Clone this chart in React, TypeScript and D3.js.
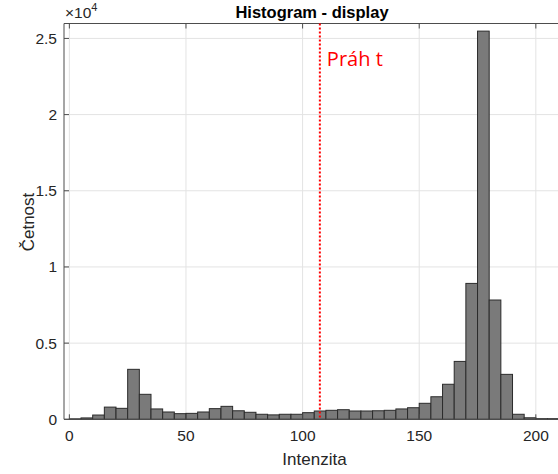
import React, { useEffect, useRef } from "react";
import * as d3 from "d3";

// bin edges: 0,5,10,...,210
const binStarts = [
  0, 5, 10, 15, 20, 25, 30, 35, 40, 45, 50, 55, 60, 65, 70, 75, 80, 85, 90, 95,
  100, 105, 110, 115, 120, 125, 130, 135, 140, 145, 150, 155, 160, 165, 170, 175,
  180, 185, 190, 195, 200, 205,
];
const counts = [
  30, 90, 280, 800, 720, 3280, 1640, 680, 480, 370, 390, 480, 700, 850, 560, 460,
  330, 290, 330, 330, 435, 545, 590, 630, 545, 545, 560, 590, 680, 760, 1050, 1480,
  2300, 3800, 8920, 25480, 7830, 2950, 330, 100, 40, 40,
];
const binWidth = 5;
const xTicks = [0, 50, 100, 150, 200];
const yTicks = [0, 5000, 10000, 15000, 20000, 25000];
const threshold = 107.4;

const App = () => {
  const svgRef = useRef<SVGSVGElement>(null);

  useEffect(() => {
    const svg = d3.select(svgRef.current);
    svg.selectAll("*").remove();

    const width = 558;
    const height = 474;
    const left = 64, right = 558, top = 23.5, bottom = 419.3;

    const x = d3.scaleLinear().domain([-2.3, 209.5]).range([left, right]);
    const y = d3.scaleLinear().domain([0, 25980]).range([bottom, top]);

    svg.attr("width", width).attr("height", height);
    const font = "Liberation Sans, Arial, Helvetica, sans-serif";

    // grid
    const grid = svg.append("g").attr("stroke", "#e3e3e3").attr("stroke-width", 1);
    xTicks.forEach(t => {
      grid.append("line").attr("x1", x(t)).attr("x2", x(t)).attr("y1", top).attr("y2", bottom);
    });
    yTicks.forEach(t => {
      grid.append("line").attr("x1", left).attr("x2", right).attr("y1", y(t)).attr("y2", y(t));
    });

    // bars
    svg.append("g")
      .selectAll("rect")
      .data(binStarts.map((b, i) => ({ b, c: counts[i] })))
      .join("rect")
      .attr("x", d => x(d.b))
      .attr("width", d => x(d.b + binWidth) - x(d.b))
      .attr("y", d => y(d.c))
      .attr("height", d => y(0) - y(d.c))
      .attr("fill", "#7a7a7a")
      .attr("stroke", "#2b2b2b")
      .attr("stroke-width", 1);

    // axes box (left, top, bottom)
    const ax = svg.append("g").attr("stroke", "#4d4d4d").attr("stroke-width", 1);
    ax.append("line").attr("x1", left).attr("x2", left).attr("y1", top).attr("y2", bottom);
    ax.append("line").attr("x1", left).attr("x2", right).attr("y1", top).attr("y2", top);
    ax.append("line").attr("x1", left).attr("x2", right).attr("y1", bottom).attr("y2", bottom);

    // ticks
    xTicks.forEach(t => {
      ax.append("line").attr("x1", x(t)).attr("x2", x(t)).attr("y1", bottom).attr("y2", bottom - 5);
      ax.append("line").attr("x1", x(t)).attr("x2", x(t)).attr("y1", top).attr("y2", top + 5);
    });
    yTicks.forEach(t => {
      ax.append("line").attr("x1", left).attr("x2", left + 5).attr("y1", y(t)).attr("y2", y(t));
    });

    // tick labels
    svg.append("g")
      .selectAll("text")
      .data(xTicks)
      .join("text")
      .attr("x", d => x(d))
      .attr("y", bottom + 22)
      .attr("text-anchor", "middle")
      .attr("font-family", font)
      .attr("font-size", 15.5)
      .attr("fill", "#262626")
      .text(d => d3.format("d")(d));

    svg.append("g")
      .selectAll("text")
      .data(yTicks)
      .join("text")
      .attr("x", left - 7)
      .attr("y", d => y(d))
      .attr("dy", "0.35em")
      .attr("text-anchor", "end")
      .attr("font-family", font)
      .attr("font-size", 15.5)
      .attr("fill", "#262626")
      .text(d => (d / 10000).toString());

    // exponent
    const ex = svg.append("text")
      .attr("x", left + 1)
      .attr("y", 18)
      .attr("font-family", font)
      .attr("font-size", 15.5)
      .attr("fill", "#262626");
    ex.append("tspan").text("\u00d710");
    ex.append("tspan").attr("dy", -7).attr("font-size", 11).text("4");

    // threshold line
    svg.append("line")
      .attr("x1", x(threshold))
      .attr("x2", x(threshold))
      .attr("y1", top)
      .attr("y2", bottom)
      .attr("stroke", "#ff0000")
      .attr("stroke-width", 2)
      .attr("stroke-dasharray", "2,2");

    svg.append("text")
      .attr("x", x(threshold) + 7)
      .attr("y", 66)
      .attr("font-family", "Open Sans, Noto Sans, sans-serif")
      .attr("font-size", 20)
      .attr("fill", "#ff0000")
      .text("Práh t");

    // title
    svg.append("text")
      .attr("x", (left + right) / 2 + 1)
      .attr("y", 18)
      .attr("text-anchor", "middle")
      .attr("font-family", font)
      .attr("font-size", 16.5)
      .attr("font-weight", "bold")
      .attr("fill", "#000")
      .text("Histogram - display");

    // axis labels
    svg.append("text")
      .attr("x", 314.5)
      .attr("y", 465)
      .attr("text-anchor", "middle")
      .attr("font-family", font)
      .attr("font-size", 17)
      .attr("fill", "#262626")
      .text("Intenzita");

    svg.append("text")
      .attr("transform", `translate(34,222) rotate(-90)`)
      .attr("text-anchor", "middle")
      .attr("font-family", font)
      .attr("font-size", 17)
      .attr("fill", "#262626")
      .text("Četnost");
  }, []);

  return <svg ref={svgRef} style={{ position: "absolute", left: 0, top: 0 }}></svg>;
};

export default App;
